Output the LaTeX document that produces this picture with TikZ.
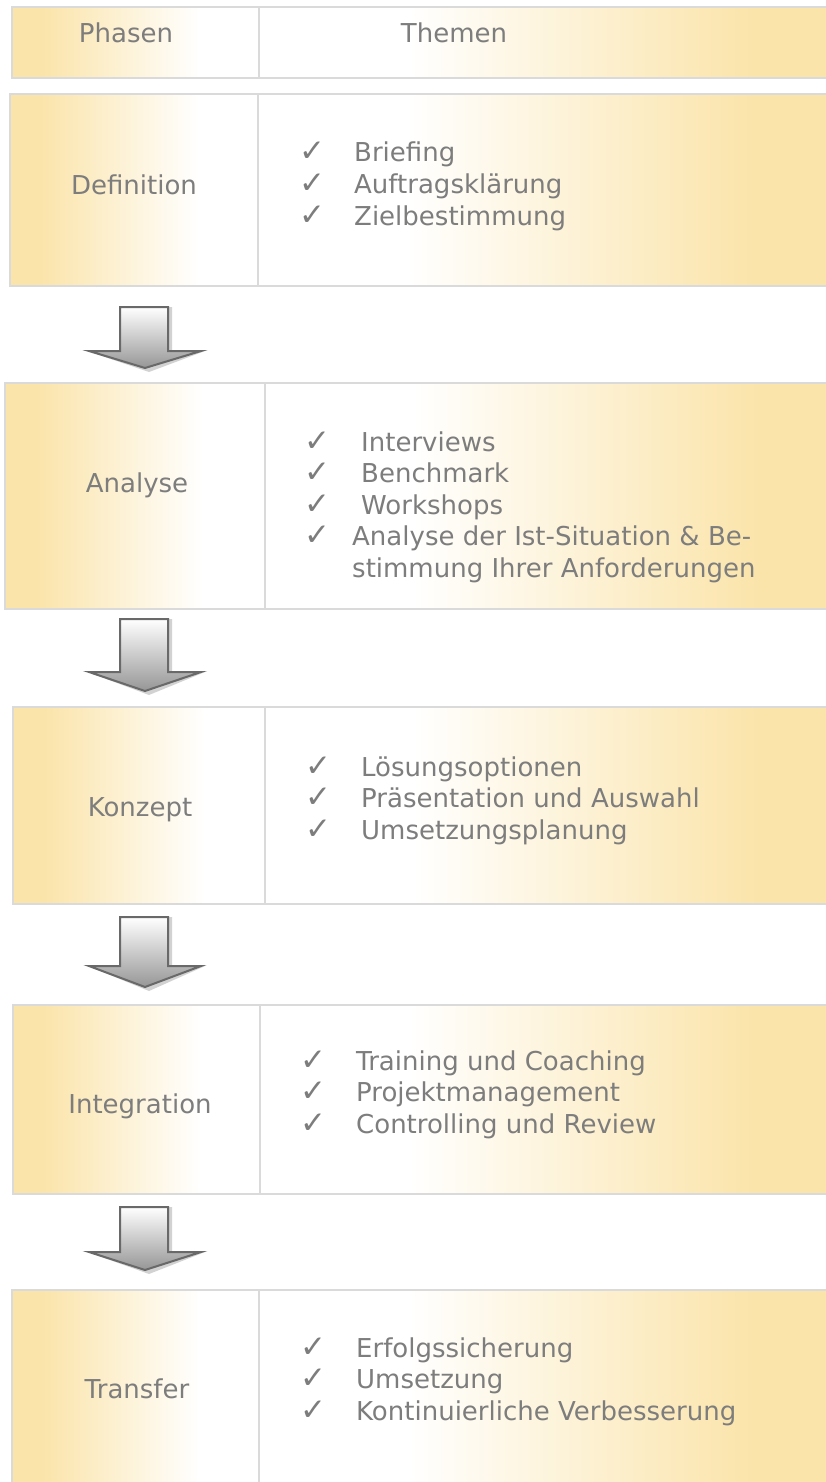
\documentclass[tikz,border=0pt]{standalone}
\usepackage{fontspec}
\setmainfont{DejaVu Sans}
\definecolor{ylw}{RGB}{251,228,170}
\definecolor{bord}{RGB}{218,218,218}
\definecolor{txt}{RGB}{125,125,125}
\definecolor{arrline}{RGB}{105,105,105}
\definecolor{arrbot}{RGB}{150,150,150}
\pgfdeclarehorizontalshading{lsh}{100bp}{color(0bp)=(ylw); color(31bp)=(ylw); color(63bp)=(white); color(100bp)=(white)}
\pgfdeclarehorizontalshading{rsh}{100bp}{color(0bp)=(white); color(38bp)=(white); color(68bp)=(ylw); color(100bp)=(ylw)}
\newcommand\ckl[2]{\makebox[#1][l]{\fontsize{31}{32}\selectfont ✓}#2}
\newcommand\blockarrow[3]{%
  \fill[black!35,opacity=0.5] (124,#1) -- (172,#1) -- (172,#2) -- (205,#2) -- (149,#3+4) -- (93,#2+2) -- (124,#2) -- cycle;
  \draw[arrowbody] (120,#1) -- (168,#1) -- (168,#2) -- (201,#2) -- (145,#3) -- (89,#2) -- (120,#2) -- cycle;}
\begin{document}
\begin{tikzpicture}[x=1pt,y=-1pt,
  cellL/.style={shade,shading=lsh,draw=bord,line width=1.6pt,inner sep=0pt,outer sep=0pt,anchor=north west},
  cellR/.style={shade,shading=rsh,draw=bord,line width=1.6pt,inner sep=0pt,outer sep=0pt,anchor=north west},
  lbl/.style={text=txt,font=\fontsize{26}{31.5}\selectfont,inner sep=0pt,anchor=base},
  items/.style={text=txt,font=\fontsize{26}{31.5}\selectfont,inner sep=0pt,anchor=base west,align=left},
  arrowbody/.style={draw=arrline,line width=2pt,line join=miter,top color=white,bottom color=arrbot}]
\useasboundingbox (0,0) rectangle (825,1482);
\fill[white] (0,0) rectangle (825,1482);
% header
\node[cellL,minimum width=247,minimum height=71] (hl) at (12,7) {};
\node[cellR,minimum width=575,minimum height=71] (hr) at (259,7) {};
\node[lbl] (tph) at (126,43) {Phasen};
\node[lbl] (tth) at (454,43) {Themen};
% Definition
\node[cellL,minimum width=248,minimum height=192] (defl) at (10,94) {};
\node[cellR,minimum width=575,minimum height=192] (defr) at (258,94) {};
\node[lbl] (tdef) at (134,194) {Definition};
\node[items] (idef) at (299,225) {\ckl{55pt}{Briefing}\\\ckl{55pt}{Auftragsklärung}\\\ckl{55pt}{Zielbestimmung}};
\blockarrow{307}{351}{368}
% Analyse
\node[cellL,minimum width=260,minimum height=226] (anal) at (5,383) {};
\node[cellR,minimum width=575,minimum height=226] (anar) at (265,383) {};
\node[lbl] (tana) at (137,492) {Analyse};
\node[items] (iana) at (304,577) {\ckl{57pt}{Interviews}\\\ckl{57pt}{Benchmark}\\\ckl{57pt}{Workshops}\\\ckl{48pt}{Analyse der Ist-Situation \& Be-}\\\hspace*{48pt}stimmung Ihrer Anforderungen};
\blockarrow{619}{672}{691}
% Konzept
\node[cellL,minimum width=252,minimum height=197] (konl) at (13,707) {};
\node[cellR,minimum width=575,minimum height=197] (konr) at (265,707) {};
\node[lbl] (tkon) at (140,816) {Konzept};
\node[items] (ikon) at (305,839) {\ckl{56pt}{Lösungsoptionen}\\\ckl{56pt}{Präsentation und Auswahl}\\\ckl{56pt}{Umsetzungsplanung}};
\blockarrow{917}{966}{987}
% Integration
\node[cellL,minimum width=247,minimum height=189] (intl) at (13,1005) {};
\node[cellR,minimum width=575,minimum height=189] (intr) at (260,1005) {};
\node[lbl] (tint) at (140,1113) {Integration};
\node[items] (iint) at (300,1133) {\ckl{56pt}{Training und Coaching}\\\ckl{56pt}{Projektmanagement}\\\ckl{56pt}{Controlling und Review}};
\blockarrow{1207}{1252}{1270}
% Transfer
\node[cellL,minimum width=247,minimum height=205] (tral) at (12,1290) {};
\node[cellR,minimum width=575,minimum height=205] (trar) at (259,1290) {};
\node[lbl] (ttra) at (137,1398) {Transfer};
\node[items] (itra) at (300,1420) {\ckl{56pt}{Erfolgssicherung}\\\ckl{56pt}{Umsetzung}\\\ckl{56pt}{Kontinuierliche Verbesserung}};
\end{tikzpicture}
\end{document}
